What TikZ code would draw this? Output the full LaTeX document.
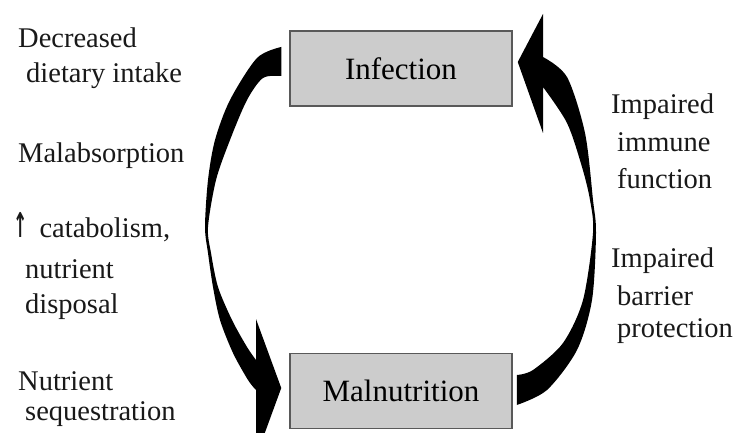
\documentclass[tikz,border=0pt]{standalone}
\usepackage{fontspec}
\setmainfont{Liberation Serif}
\newfontfamily\arrowfont{DejaVu Sans}
\usetikzlibrary{positioning}

\begin{document}
\begin{tikzpicture}[x=1pt, y=-1pt, box/.style={draw=black!65, line width=1.5pt, fill=black!20, minimum width=222pt, minimum height=75pt, inner sep=0pt, font=\fontsize{31}{36}\selectfont}, cause/.style={anchor=base west, align=left, inner sep=0pt, text=black!90, font=\fontsize{28.5}{35}\selectfont}]
    \clip (0,0) rectangle (739,433);
    \node[box] (inf) at (401,68.5) {Infection};
    \node[box] (mal) at (401,391) {Malnutrition};

    \node[cause] (intake) at (18,83) {Decreased\\\hspace*{8pt}dietary intake};
    \node[cause] (absorb) at (18,162) {Malabsorption};
    \node[cause] (catab) at (13,313) {\scalebox{0.6}[1.2]{\arrowfont\bfseries ↑}\hspace*{12pt}catabolism,\\[6pt]\hspace*{12pt}nutrient\\\hspace*{12pt}disposal};
    \node[cause] (seq) at (18,420) {Nutrient\\[-5pt]\hspace*{7pt}sequestration};

    \node[cause] (immune) at (611,189) {Impaired\\[4pt]\hspace*{6pt}immune\\[2pt]\hspace*{6pt}function};
    \node[cause] (barrier) at (611,337) {Impaired\\[3pt]\hspace*{6pt}barrier\\[-3pt]\hspace*{6pt}protection};

    \fill[black] plot[smooth] coordinates {([shift={(-8,-21.5)}]inf.west) (257,58) (230,100) (215,140) (208,180) (205,227) (208,253) (213,287) (220,320) (233,353) (248,380) (256,390)}
        -- (256,457) -- ([shift={(-8,-3)}]mal.west) -- (256,319) -- (256,360)
        -- plot[smooth] coordinates {(256,360) (247,347) (232,320) (218,287) (211,253) (208,227) (216,180) (230,140) (247,100) (263,78) ([shift={(-8,7.5)}]inf.west)} -- cycle;

    \fill[black] plot[smooth] coordinates {([shift={(4,14)}]mal.east) (547,390) (577,350) (592,300) (596,233) (593,200) (585,133) (567,77) (543,57)}
        -- (543,14) -- ([shift={(5,-6.5)}]inf.east) -- (543,133) -- (543,87)
        -- plot[smooth] coordinates {(543,87) (567,123) (582,167) (590,200) (593,233) (583,300) (563,343) (533,370) ([shift={(4,-16)}]mal.east)} -- cycle;
\end{tikzpicture}
\end{document}
